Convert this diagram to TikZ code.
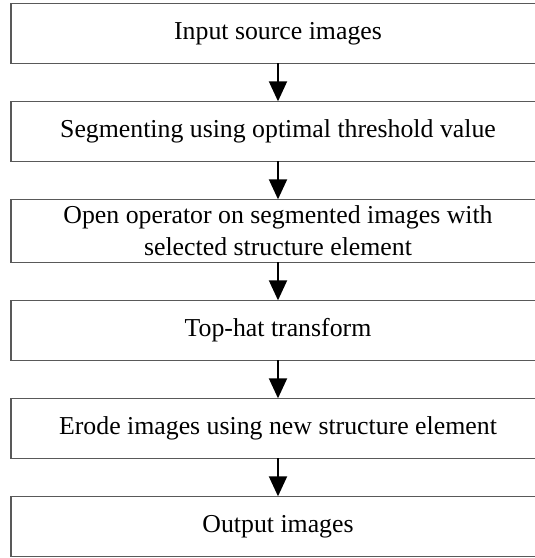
\documentclass[tikz,border=0pt]{standalone}
\usepackage{fontspec}
\setmainfont{Liberation Serif}
\usepackage{tikz}
\usetikzlibrary{positioning}
\usetikzlibrary{arrows.meta}

\begin{document}
\begin{tikzpicture}[x=1pt,y=1pt,node distance=38pt,
  stepbox/.style={draw=black!65,line width=1.3pt,minimum width=534pt,minimum height=60pt,
    inner sep=2pt,outer sep=0pt,align=center,font=\fontsize{25.8}{32}\selectfont},
  flow/.style={line width=2pt,-{Triangle[width=18pt,length=20pt]}}]
\useasboundingbox (0,0) rectangle (535,-558);
\node [stepbox] (in) at (278,-33.3) {Input source images};
\node [stepbox,below=of in] (seg) {Segmenting using optimal threshold value};
\node [stepbox,below=of seg,minimum height=63pt] (open) {Open operator on segmented images with\\selected structure element};
\node [stepbox,below=of open] (top) {Top-hat transform};
\node [stepbox,below=of top] (erode) {Erode images using new structure element};
\node [stepbox,below=of erode] (out) {Output images};
\draw [flow] (in) -- (seg);
\draw [flow] (seg) -- (open);
\draw [flow] (open) -- (top);
\draw [flow] (top) -- (erode);
\draw [flow] (erode) -- (out);
\end{tikzpicture}
\end{document}
